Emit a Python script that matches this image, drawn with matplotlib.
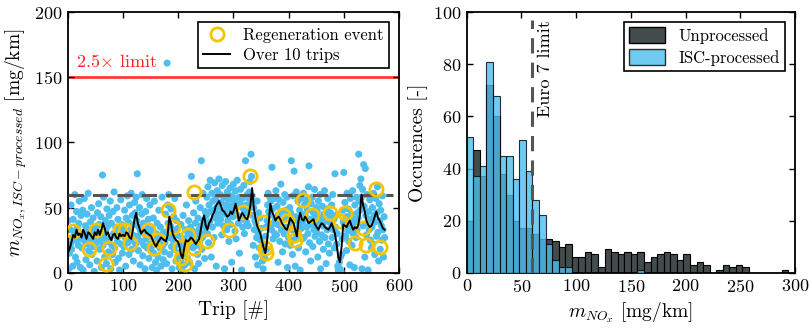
import numpy as np
import matplotlib
matplotlib.use('Agg')
import matplotlib.pyplot as plt
from matplotlib.lines import Line2D
from matplotlib.patches import Patch

plt.rcParams['font.family'] = ['cmr10', 'DejaVu Serif']
plt.rcParams['mathtext.fontset'] = 'cm'
plt.rcParams['axes.formatter.use_mathtext'] = True

#--- left panel: per-trip NOx (ISC-processed)
nox_trip = [
    40, 3, 15, 33, 22, 52, 18, 27, 5, 41, 32, 25, 60, 12, 29, 47, 8, 35, 21, 38, 55, 26, 4, 44, 30,
    19, 48, 2, 31, 57, 24, 36, 10, 28, 45, 22, 61, 17, 33, 6, 39, 26, 50, 14, 30, 42, 20, 1, 35, 27,
    34, 23, 9, 46, 29, 53, 37, 18, 25, 43, 4, 31, 75, 21, 58, 27, 12, 40, 33, 7, 49, 24, 36, 16, 44,
    26, 55, 3, 38, 21, 14, 47, 30, 62, 19, 8, 35, 28, 50, 24, 41, 11, 33, 2, 29, 56, 22, 37, 15, 31,
    36, 20, 48, 27, 5, 42, 31, 59, 23, 39, 14, 52, 33, 25, 61, 18, 44, 29, 9, 37, 54, 46, 22, 58, 40,
    76, 28, 17, 35, 50, 6, 32, 24, 45, 60, 13, 38, 21, 30, 3, 47, 26, 57, 19, 34, 41, 11, 29, 52, 22,
    18, 33, 4, 27, 42, 15, 55, 22, 8, 30, 2, 38, 24, 12, 48, 26, 19, 35, 5, 29, 58, 21, 10, 31, 16,
    23, 45, 31, 7, 161, 52, 38, 60, 27, 14, 36, 49, 20, 3, 33, 25, 43, 18, 57, 29, 9, 40, 22, 34, 12,
    15, 4, 28, 9, 37, 21, 2, 12, 44, 18, 26, 6, 33, 17, 52, 24, 11, 30, 40, 20, 8, 35, 23, 74, 27,
    32, 19, 46, 25, 3, 38, 55, 21, 29, 14, 42, 7, 33, 24, 50, 36, 86, 18, 27, 61, 40, 30, 11, 47, 35,
    44, 58, 30, 66, 23, 52, 39, 71, 47, 12, 61, 35, 55, 48, 27, 69, 42, 57, 5, 50, 63, 38, 45, 72, 53,
    60, 41, 54, 29, 67, 48, 36, 58, 3, 45, 70, 52, 33, 62, 40, 56, 24, 49, 65, 37, 51, 8, 59, 43, 68,
    47, 55, 32, 63, 26, 50, 71, 44, 38, 58, 15, 53, 64, 41, 2, 57, 35, 49, 67, 30, 46, 86, 52, 39, 60,
    48, 36, 57, 62, 70, 53, 91, 74, 59, 44, 21, 50, 33, 40, 12, 38, 27, 55, 6, 31, 46, 19, 42, 25, 34,
    20, 14, 9, 3, 17, 22, 11, 28, 35, 18, 40, 52, 61, 47, 44, 58, 36, 55, 33, 81, 49, 26, 38, 57, 30,
    42, 63, 29, 51, 37, 8, 45, 56, 24, 39, 68, 33, 47, 16, 54, 41, 30, 60, 22, 48, 35, 58, 4, 44, 27,
    33, 50, 21, 46, 86, 38, 14, 59, 25, 78, 31, 5, 43, 62, 28, 40, 55, 19, 36, 48, 2, 57, 34, 45, 26,
    39, 61, 27, 52, 44, 16, 56, 35, 48, 30, 66, 82, 23, 41, 9, 53, 37, 58, 20, 46, 33, 64, 28, 43, 50,
    31, 47, 12, 55, 38, 24, 60, 3, 42, 29, 51, 36, 18, 45, 63, 27, 40, 7, 49, 33, 57, 22, 39, 15, 44,
    46, 38, 52, 27, 60, 33, 41, 19, 76, 35, 44, 22, 30, 5, 2, 0, 8, 3, 12, 1, 14, 26, 48, 39, 77,
    36, 54, 28, 43, 17, 61, 32, 49, 24, 40, 6, 57, 35, 45, 21, 63, 30, 38, 4, 52, 41, 27, 58, 33, 46,
    42, 91, 55, 67, 48, 72, 58, 3, 64, 36, 83, 51, 12, 80, 44, 29, 60, 38, 2, 47, 33, 56, 25, 41, 19,
    35, 50, 22, 61, 44, 14, 39, 57, 28, 46, 66, 31, 9, 53, 40, 18, 48, 36, 25, 59, 33, 12, 43, 27,
]

# regeneration events (trip, value)
regen_trip = [10, 39, 51, 69, 74, 95, 104, 112, 146, 156, 164, 182, 190, 203, 206, 212, 218,
              228, 229, 252, 293, 317, 331, 354, 357, 360, 390, 397, 409, 412, 427, 442,
              475, 493, 502, 520, 535, 541, 558, 565]
regen_val = [32, 18, 33, 7, 19, 33, 33, 23, 33, 19, 25, 48, 35, 20, 11, 7, 29,
             19, 62, 24, 33, 47, 74, 39, 19, 15, 44, 40, 29, 25, 56, 44,
             46, 40, 46, 23, 34, 21, 64, 20]

# 10-trip average, read every 3 trips starting at trip 1
avg10 = [
    16, 19, 24, 29, 27, 33, 29, 30, 27, 33,
    30, 26, 31, 30, 28, 26, 31, 29, 33, 29,
    33, 38, 34, 29, 31, 27, 25, 29, 30, 27,
    26, 30, 28, 29, 28, 31, 30, 27, 26, 33,
    41, 46, 38, 34, 30, 32, 33, 31, 30, 29,
    28, 25, 22, 20, 23, 25, 27, 26, 25, 24,
    29, 43, 38, 30, 27, 25, 24, 21, 14, 11,
    19, 25, 24, 25, 27, 26, 24, 22, 24, 26,
    33, 40, 44, 36, 33, 38, 40, 44, 46, 51,
    53, 55, 52, 48, 47, 45, 43, 44, 47, 45,
    48, 53, 47, 40, 43, 46, 44, 42, 41, 45,
    52, 65, 50, 42, 36, 33, 30, 24, 19, 15,
    24, 38, 53, 47, 44, 40, 42, 43, 41, 38,
    36, 34, 33, 37, 42, 40, 38, 33, 28, 40,
    46, 41, 40, 43, 41, 38, 39, 40, 41, 37,
    35, 33, 36, 38, 37, 35, 34, 33, 35, 38,
    34, 30, 22, 12, 8, 20, 37, 36, 35, 38,
    40, 36, 33, 35, 34, 36, 44, 60, 52, 47,
    40, 37, 35, 36, 39, 43, 47, 42, 40, 37,
    34, 33,
]

#--- right panel: histogram counts, bins of 6 mg/km from 0 to 300
bin_edges = np.arange(0, 306, 6)
unprocessed = [20, 47, 37, 72, 60, 38, 30, 20, 17, 17, 15, 13, 13, 12, 10, 11, 6, 6, 8, 7,
               2, 9, 8, 7, 8, 7, 8, 4, 6, 7, 8, 7, 5, 7, 3, 4, 3, 0, 1, 3,
               2, 3, 2, 0, 0, 0, 0, 0, 1, 0]
isc_processed = [52, 37, 41, 81, 68, 45, 45, 36, 51, 39, 28, 22, 11, 5, 2, 2, 0, 0, 0, 0,
                 0, 0, 0, 0, 0, 0, 1, 0, 0, 0, 0, 0, 0, 0, 0, 0, 0, 0, 0, 0,
                 0, 0, 0, 0, 0, 0, 0, 0, 0, 0]

euro7_limit = 60
red_limit = 150

blue = '#4DBEEE'
gold = '#F5C400'
grey = '#434c4c'

fig = plt.figure(figsize=(8.09, 3.28), dpi=100)
ax1 = fig.add_axes([0.0837, 0.1686, 0.4095, 0.7939])
ax2 = fig.add_axes([0.5769, 0.1686, 0.4058, 0.7939])

#--- left
trips = np.arange(1, len(nox_trip) + 1)
avg_trips = np.arange(1, 3 * len(avg10), 3)

ax1.axhline(red_limit, color='#ff3b3b', lw=2, zorder=1)
ax1.text(15, 162, r'2.5$\times$ limit', color='#ff2020', fontsize=13, va='center')
ax1.scatter(trips, nox_trip, s=26, color=blue, edgecolors='none', zorder=2)
ax1.plot([0, 590], [euro7_limit, euro7_limit], color='#555555', lw=2.2, ls=(0, (5, 3)), zorder=3)
ax1.plot(regen_trip, regen_val, 'o', ms=9.5, mfc='none', mec=gold, mew=2, zorder=4)
ax1.plot(avg_trips, avg10, color='black', lw=1.4, zorder=5)

ax1.set_xlim(0, 600)
ax1.set_ylim(0, 200)
ax1.set_xticks([0, 100, 200, 300, 400, 500, 600])
ax1.set_yticks([0, 50, 100, 150, 200])
ax1.set_xlabel(r'Trip [#]', fontsize=14)
ax1.set_ylabel(r'$m_{NO_x,ISC-processed}$ [mg/km]', fontsize=14)

handles = [Line2D([], [], ls='none', marker='o', ms=9.5, mfc='none', mec=gold, mew=2),
           Line2D([], [], color='black', lw=1.4)]
leg = ax1.legend(handles, ['Regeneration event', 'Over 10 trips'], loc='upper right',
                 fontsize=12, fancybox=False, framealpha=1, edgecolor='black',
                 borderaxespad=0.6, handlelength=1.6, borderpad=0.3, labelspacing=0.3)
leg.get_frame().set_linewidth(1.2)

#--- right
ax2.hist(bin_edges[:-1], bins=bin_edges, weights=unprocessed, color=grey,
         edgecolor='black', lw=0.8, zorder=2)
ax2.hist(bin_edges[:-1], bins=bin_edges, weights=isc_processed, color=blue, alpha=0.8,
         edgecolor='black', lw=0.8, zorder=3)
ax2.plot([euro7_limit, euro7_limit], [0, 97], color='#555555', lw=2.2, ls=(0, (5, 3)), zorder=4)
ax2.text(euro7_limit + 12, 97, 'Euro 7 limit', rotation=90, ha='center', va='top', fontsize=13)

ax2.set_xlim(0, 300)
ax2.set_ylim(0, 100)
ax2.set_xticks([0, 50, 100, 150, 200, 250, 300])
ax2.set_yticks([0, 20, 40, 60, 80, 100])
ax2.set_xlabel(r'$m_{NO_x}$ [mg/km]', fontsize=14)
ax2.set_ylabel('Occurences [-]', fontsize=14)

handles2 = [Patch(facecolor=grey, edgecolor='black'), Patch(facecolor=blue, alpha=0.8, edgecolor='black')]
leg2 = ax2.legend(handles2, ['Unprocessed', 'ISC-processed'], loc='upper right',
                  fontsize=12, fancybox=False, framealpha=1, edgecolor='black',
                  borderaxespad=0.6, handlelength=2.2, handleheight=1.1, borderpad=0.3,
                  labelspacing=0.3)
leg2.get_frame().set_linewidth(1.2)

for ax in (ax1, ax2):
    ax.tick_params(direction='in', top=True, right=True, labelsize=13, width=1, length=4)
    for s in ax.spines.values():
        s.set_linewidth(1.3)

plt.savefig('out.png', dpi=100)
plt.close()
